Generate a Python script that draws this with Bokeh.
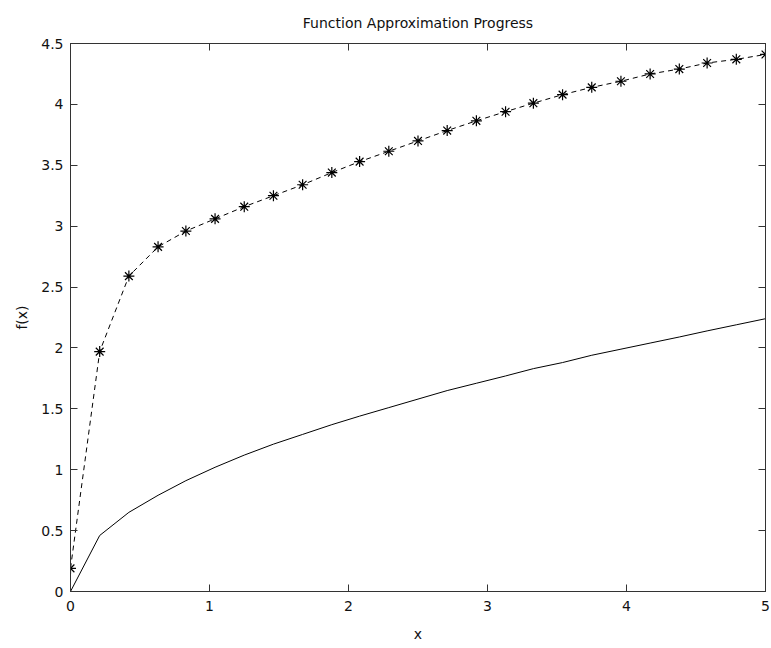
from bokeh.plotting import figure
from bokeh.models import LinearAxis, FixedTicker, Range1d
from bokeh.embed import file_html
from bokeh.resources import INLINE

# sample points along x
x_vals = [0.0, 0.21, 0.42, 0.63, 0.83, 1.04, 1.25, 1.46, 1.67, 1.88, 2.08, 2.29,
          2.5, 2.71, 2.92, 3.13, 3.33, 3.54, 3.75, 3.96, 4.17, 4.38, 4.58, 4.79, 5.0]

# target function (solid line)
target_vals = [0.0, 0.46, 0.65, 0.79, 0.91, 1.02, 1.12, 1.21, 1.29, 1.37, 1.44, 1.51,
               1.58, 1.65, 1.71, 1.77, 1.83, 1.88, 1.94, 1.99, 2.04, 2.09, 2.14, 2.19, 2.24]

# approximation (dashed line with star markers)
approx_vals = [0.19, 1.97, 2.59, 2.83, 2.96, 3.06, 3.16, 3.25, 3.34, 3.44, 3.53, 3.615,
               3.70, 3.785, 3.865, 3.94, 4.01, 4.08, 4.14, 4.19, 4.25, 4.29, 4.34, 4.37, 4.41]

x_ticks = [0, 1, 2, 3, 4, 5]
x_tick_labels = ["0", "1", "2", "3", "4", "5"]
y_ticks = [0, 0.5, 1, 1.5, 2, 2.5, 3, 3.5, 4, 4.5]
y_tick_labels = ["0", "0.5", "1", "1.5", "2", "2.5", "3", "3.5", "4", "4.5"]

FONT = "DejaVu Sans"
AX_COLOR = "#333333"
TEXT_COLOR = "#111111"

p = figure(width=771, height=648, output_backend="svg", toolbar_location=None,
           x_range=Range1d(0, 5), y_range=Range1d(0, 4.5),
           x_axis_location=None, y_axis_location=None,
           min_border_left=70, min_border_right=6, min_border_top=42, min_border_bottom=57,
           title="Function Approximation Progress")
p.background_fill_color = "white"
p.border_fill_color = "white"
p.grid.visible = False
p.outline_line_color = AX_COLOR
p.outline_line_width = 1

p.title.align = "center"
p.title.text_font = FONT
p.title.text_font_style = "normal"
p.title.text_font_size = "14px"
p.title.text_color = TEXT_COLOR
p.title.standoff = 25


def style_axis(ax, ticks, labels, show_labels, standoff=7):
    ax.ticker = FixedTicker(ticks=ticks)
    ax.major_tick_in = 7
    ax.major_tick_out = 0
    ax.minor_tick_line_color = None
    ax.axis_line_color = AX_COLOR
    ax.major_tick_line_color = AX_COLOR
    if show_labels:
        ax.major_label_overrides = {t: s for t, s in zip(ticks, labels)}
        ax.major_label_text_font = FONT
        ax.major_label_text_font_size = "14px"
        ax.major_label_text_color = TEXT_COLOR
        ax.major_label_standoff = standoff
    else:
        ax.major_label_overrides = {t: "" for t in ticks}
        ax.major_label_standoff = 0


xb = LinearAxis(axis_label="x")
style_axis(xb, x_ticks, x_tick_labels, True, standoff=9)
xb.axis_label_text_font = FONT
xb.axis_label_text_font_style = "normal"
xb.axis_label_text_font_size = "14px"
xb.axis_label_text_color = TEXT_COLOR
xb.axis_label_standoff = 12
p.add_layout(xb, "below")

yl = LinearAxis(axis_label="f(x)")
style_axis(yl, y_ticks, y_tick_labels, True, standoff=7)
yl.axis_label_text_font = FONT
yl.axis_label_text_font_style = "normal"
yl.axis_label_text_font_size = "14px"
yl.axis_label_text_color = TEXT_COLOR
yl.axis_label_standoff = 8
p.add_layout(yl, "left")

xt = LinearAxis()
style_axis(xt, x_ticks, x_tick_labels, False)
p.add_layout(xt, "above")

yr = LinearAxis()
style_axis(yr, y_ticks, y_tick_labels, False)
p.add_layout(yr, "right")

# target curve
p.line(x_vals, target_vals, line_color="black", line_width=1)

# approximation curve
p.line(x_vals, approx_vals, line_color="black", line_width=1, line_dash="5 4")
p.scatter(x_vals, approx_vals, marker="asterisk", size=11, line_color="black", line_width=1.2)

open("out.html", "w").write(file_html(p, INLINE))
